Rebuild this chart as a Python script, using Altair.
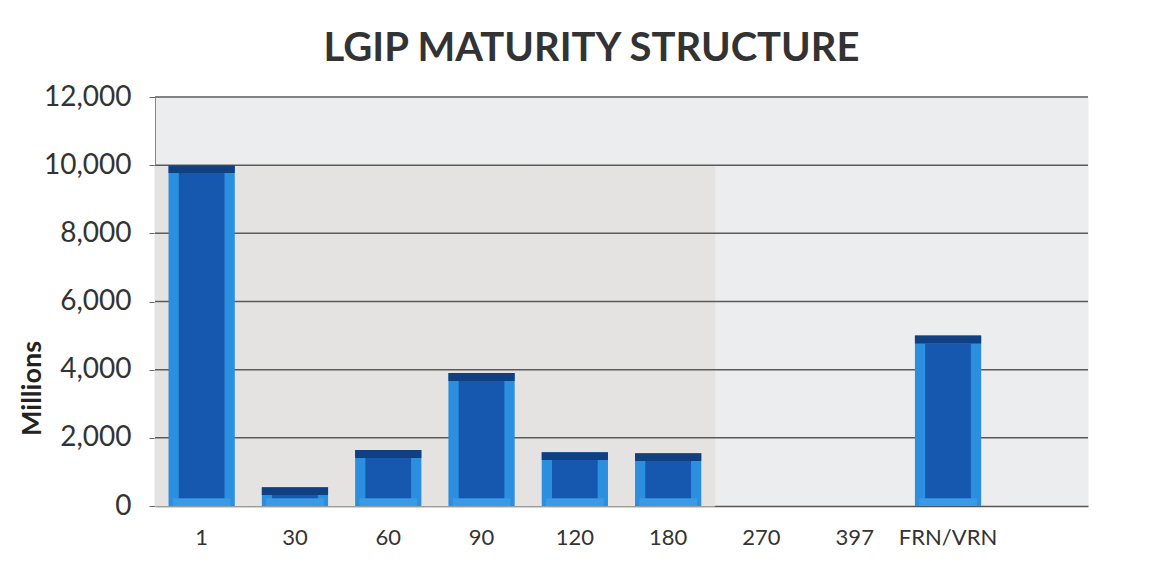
import altair as alt
import pandas as pd

categories = ["1", "30", "60", "90", "120", "180", "270", "397", "FRN/VRN"]
values = [10000, 550, 1640, 3900, 1580, 1550, 0, 0, 5000]
slots = categories + [" "]
y_ticks = [0, 2000, 4000, 6000, 8000, 10000, 12000]

df = pd.DataFrame({"cat": categories, "val": values})
df = df[df["val"] > 0]
bg = pd.DataFrame({"cat": categories[:6]})
gl = pd.DataFrame({"t": y_ticks[1:]})

FONT = "Lato"
BEV = 230  # bevel thickness in data units

y_scale = alt.Scale(domain=[0, 12000])
x_enc = alt.X("cat:N", sort=slots,
              scale=alt.Scale(domain=slots, paddingInner=0, paddingOuter=0),
              axis=alt.Axis(title=None, labelAngle=0, labelFontSize=22, labelFont=FONT,
                            labelColor="#333333", labelPadding=21, ticks=False,
                            domainColor="#555555", domainWidth=1.5))
y_enc = alt.Y("val:Q", scale=y_scale, stack=None,
              axis=alt.Axis(title="Millions", values=y_ticks, format=",d", grid=False,
                            labelFontSize=28, labelFont=FONT, labelColor="#333333",
                            labelPadding=18, tickSize=6, tickColor="#666666",
                            domainColor="#888888",
                            titleFont=FONT, titleFontSize=27, titleFontWeight="bold",
                            titleColor="#222222", titleX=-109, titleY=291,
                            titleAngle=-90))
x_plain = alt.X("cat:N", sort=slots)

base_axes = alt.Chart(df).mark_bar(opacity=0).encode(x=x_enc, y=y_enc)
shade = alt.Chart(bg).mark_rect(color="#e4e3e2", stroke="#e4e3e2", strokeWidth=1).encode(
    x=x_plain, y=alt.YDatum(0), y2=alt.Y2Datum(10000))
grid = alt.Chart(gl).mark_rule(color="#5a5a5a", strokeWidth=1.5).encode(
    y=alt.Y("t:Q"))

outer = alt.Chart(df).mark_bar(color="#2b8ede", width=alt.RelativeBandSize(0.71)).encode(
    x=x_plain, y=alt.Y("val:Q", stack=None))
cap = alt.Chart(df).transform_calculate(lo="datum.val - %d" % BEV).mark_bar(
    color="#103f82", width=alt.RelativeBandSize(0.71)).encode(
    x=x_plain, y=alt.Y("val:Q", stack=None), y2="lo:Q")
bottom = alt.Chart(df).mark_bar(color="#3a9ae6", width=alt.RelativeBandSize(0.62)).encode(
    x=x_plain, y=alt.YDatum(BEV), y2=alt.Y2Datum(0))
inner = alt.Chart(df).transform_calculate(lo="datum.val - %d" % BEV).mark_bar(
    color="#1658b0", width=alt.RelativeBandSize(0.49)).encode(
    x=x_plain, y=alt.Y("lo:Q", stack=None), y2=alt.Y2Datum(BEV))

chart = alt.layer(base_axes, shade, grid, outer, cap, bottom, inner).properties(
    width=933, height=409,
    background="white",
    title=alt.TitleParams("LGIP MATURITY STRUCTURE", font=FONT, fontSize=40,
                          fontWeight="bold", color="#333333", anchor="middle",
                          dx=-30, offset=14),
    autosize=alt.AutoSizeParams(type="none"),
    padding={"left": 147, "top": 89, "right": 20, "bottom": 45},
).configure_view(fill="#ecedee", stroke="transparent")

chart.save("out.html", embed_options={"renderer": "svg", "actions": False})
